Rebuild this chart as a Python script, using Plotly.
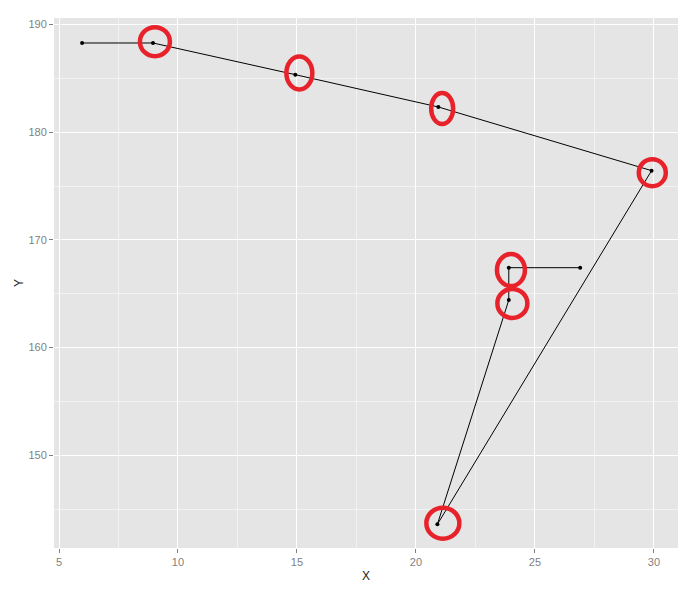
import plotly.graph_objects as go

# Path data (in drawing order)
x_vals = [5.97, 8.95, 14.93, 20.94, 29.9, 20.9, 23.9, 23.9, 26.9]
y_vals = [188.28, 188.28, 185.34, 182.34, 176.43, 143.6, 164.42, 167.42, 167.42]

# Red highlight rings (centres in data units, sizes in px)
ring_x = [9.03, 15.1, 21.1, 29.93, 23.99, 24.05, 21.13]
ring_y = [188.4, 185.5, 182.2, 176.24, 167.2, 164.1, 143.7]
ring_w = [30, 26, 22, 27, 28, 30, 33]
ring_h = [29, 33, 31, 27, 32, 29, 31]

x_ticks = [5, 10, 15, 20, 25, 30]
y_ticks = [150, 160, 170, 180, 190]

fig = go.Figure()
fig.add_trace(go.Scatter(
    x=x_vals, y=y_vals, mode="lines+markers",
    line=dict(color="black", width=1),
    marker=dict(color="black", size=4),
    showlegend=False, hoverinfo="skip",
))

for cx, cy, w, h in zip(ring_x, ring_y, ring_w, ring_h):
    fig.add_shape(
        type="circle", xref="x", yref="y",
        xsizemode="pixel", ysizemode="pixel",
        xanchor=cx, yanchor=cy,
        x0=-w / 2, x1=w / 2, y0=-h / 2, y1=h / 2,
        line=dict(color="#e8222b", width=4.5),
        layer="above",
    )

font = "Liberation Sans, Arial, sans-serif"
axis_common = dict(
    showgrid=True, gridcolor="white", gridwidth=1.2,
    zeroline=False, showline=False, automargin=False,
    ticks="outside", ticklen=4, tickcolor="#7f7f7f", tickwidth=1,
    tickfont=dict(family=font, size=11, color="#7f7f7f"),
)

fig.update_layout(
    width=699, height=594,
    margin=dict(l=46, r=29, t=10, b=54),
    paper_bgcolor="white", plot_bgcolor="#e5e5e5",
    font=dict(family=font),
    xaxis=dict(
        range=[4.79, 31.01], tickvals=x_ticks, ticktext=[str(v) for v in x_ticks],
        title=dict(text="X", font=dict(family=font, size=12, color="#222"), standoff=4),
        minor=dict(tickvals=[7.5, 12.5, 17.5, 22.5, 27.5], showgrid=True,
                   gridcolor="#f2f2f2", gridwidth=0.6, ticks=""),
        **axis_common,
    ),
    yaxis=dict(
        range=[141.4, 190.6], tickvals=y_ticks, ticktext=[str(v) for v in y_ticks],
        title=dict(text="Y", font=dict(family=font, size=12, color="#222"), standoff=2),
        minor=dict(tickvals=[145, 155, 165, 175, 185], showgrid=True,
                   gridcolor="#f2f2f2", gridwidth=0.6, ticks=""),
        **axis_common,
    ),
)

fig.write_html("out.html")
